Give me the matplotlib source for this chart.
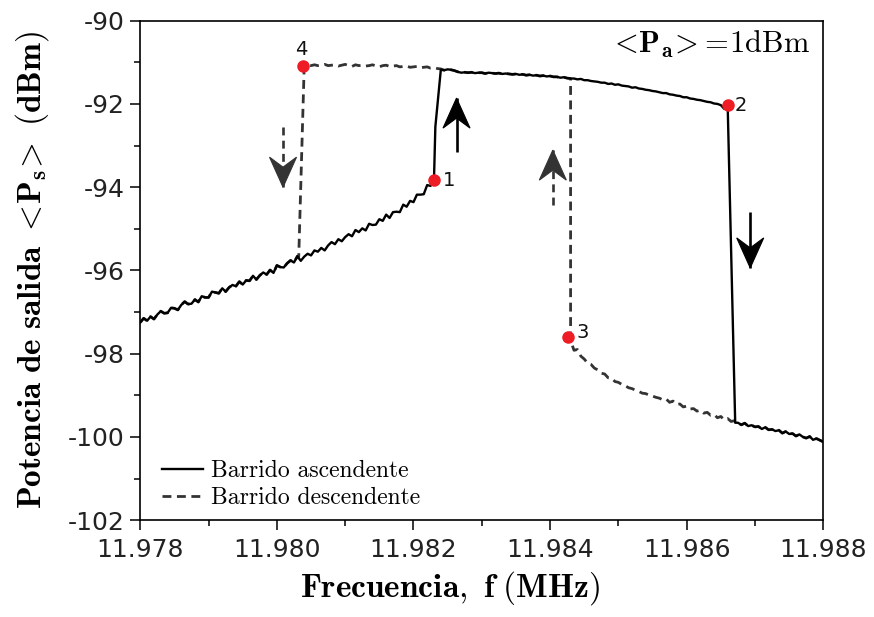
import numpy as np
import matplotlib
matplotlib.use("Agg")
import matplotlib.pyplot as plt
from matplotlib.patches import Polygon
from matplotlib.transforms import ScaledTranslation

# ---- data (MHz, dBm) ------------------------------------------------
STEP = 0.00005

# ascending sweep, low branch up to the jump at point 1
asc_low_f0 = 11.97800
asc_low_p = [
    -97.25, -97.15, -97.21, -97.11, -97.17, -97.06, -96.98, -97.03, -97.02, -96.90,
    -96.91, -96.95, -96.83, -96.75, -96.81, -96.80, -96.70, -96.76, -96.62, -96.65,
    -96.65, -96.51, -96.53, -96.55, -96.43, -96.51, -96.41, -96.35, -96.38, -96.27,
    -96.34, -96.24, -96.25, -96.13, -96.22, -96.12, -96.05, -96.10, -95.99, -96.06,
    -95.88, -95.92, -95.93, -95.83, -95.76, -95.81, -95.66, -95.77, -95.67, -95.60,
    -95.64, -95.52, -95.55, -95.46, -95.52, -95.40, -95.32, -95.37, -95.25, -95.30,
    -95.20, -95.13, -95.18, -95.03, -95.08, -94.99, -95.04, -94.88, -94.91, -94.90,
    -94.77, -94.81, -94.66, -94.74, -94.60, -94.59, -94.60, -94.42, -94.47, -94.33,
    -94.36, -94.18, -94.18, -94.17, -93.95, -93.97, -93.83,
]
# jump up at point 1
asc_jump_up_f = [11.98232, 11.98240]
asc_jump_up_p = [-92.55, -91.18]

# ascending sweep, upper branch up to point 2
asc_top_f0 = 11.98245
asc_top_p = [
    -91.19, -91.17, -91.18, -91.20, -91.23, -91.25, -91.24, -91.25, -91.24, -91.26,
    -91.25, -91.25, -91.27, -91.25, -91.26, -91.27, -91.26, -91.28, -91.27, -91.28,
    -91.29, -91.28, -91.30, -91.29, -91.31, -91.30, -91.32, -91.31, -91.33, -91.32,
    -91.34, -91.33, -91.35, -91.35, -91.37, -91.36, -91.38, -91.39, -91.39, -91.41,
    -91.40, -91.43, -91.43, -91.45, -91.46, -91.47, -91.49, -91.49, -91.52, -91.51,
    -91.54, -91.53, -91.56, -91.57, -91.58, -91.61, -91.60, -91.63, -91.64, -91.66,
    -91.67, -91.69, -91.70, -91.72, -91.74, -91.74, -91.77, -91.78, -91.80, -91.81,
    -91.84, -91.84, -91.87, -91.88, -91.90, -91.91, -91.93, -91.95, -91.96, -91.99,
    -92.00, -92.03, -92.12, -92.05,
]
# drop at point 2
asc_drop_f = [11.98671]
asc_drop_p = [-99.66]

# common tail at high frequency
tail_f0 = 11.98675
tail_p = [
    -99.66, -99.71, -99.67, -99.74, -99.72, -99.76, -99.75, -99.81, -99.77, -99.83,
    -99.82, -99.86, -99.84, -99.91, -99.87, -99.93, -99.92, -99.98, -99.94, -100.00,
    -100.03, -99.99, -100.07, -100.04, -100.08, -100.12,
]

# descending sweep, low branch from the tail down to point 3
desc_low_f0 = 11.98430
desc_low_p = [
    -97.68, -97.92, -97.90, -98.06, -98.13, -98.23, -98.26, -98.35, -98.39, -98.47,
    -98.49, -98.58, -98.59, -98.67, -98.69, -98.74, -98.77, -98.82, -98.84, -98.88,
    -98.91, -98.95, -98.96, -99.00, -99.02, -99.05, -99.07, -99.11, -99.09, -99.17,
    -99.14, -99.22, -99.21, -99.28, -99.26, -99.33, -99.32, -99.38, -99.36, -99.43,
    -99.41, -99.48, -99.46, -99.54, -99.51, -99.59, -99.56, -99.63, -99.61,
]
# jump up at point 3
desc_jump_f = [11.98430]
desc_jump_p = [-91.39]

# descending sweep, upper branch left of the ascending jump
desc_top_f0 = 11.98040
desc_top_p = [
    -91.09, -91.07, -91.08, -91.06, -91.08, -91.07, -91.05, -91.08, -91.07, -91.06,
    -91.09, -91.07, -91.05, -91.08, -91.10, -91.06, -91.08, -91.07, -91.09, -91.08,
    -91.06, -91.09, -91.11, -91.08, -91.07, -91.10, -91.09, -91.08, -91.11, -91.10,
    -91.09, -91.12, -91.11, -91.10, -91.13, -91.12, -91.11, -91.14, -91.13, -91.15,
    -91.16,
]
# drop at point 4
desc_drop_f = [11.98032]
desc_drop_p = [-95.67]

# marked bistability points
pt_f = [11.98230, 11.98660, 11.98426, 11.98038]
pt_p = [-93.83, -92.03, -97.60, -91.09]
pt_lab = ["1", "2", "3", "4"]


def sweep(f0, vals):
    return f0 + STEP * np.arange(len(vals)), np.asarray(vals)


def draw_arrow(ax, fig, x, y0, y1, color, dashed):
    """Vertical arrow from y0 to tip y1 with a slightly notched head."""
    sgn = 1 if y1 > y0 else -1
    L, W, N = 0.30, 0.135, 0.20   # head length, half width, notch (inches)
    ls = (0, (3.0, 2.0)) if dashed else "-"
    ax.plot([x, x], [y0, y1], color=color, lw=1.9, linestyle=ls,
            solid_capstyle="butt", zorder=6)
    tr = fig.dpi_scale_trans + ScaledTranslation(x, y1, ax.transData)
    head = Polygon([(0, 0), (-W, -sgn * L), (0, -sgn * N), (W, -sgn * L)],
                   closed=True, transform=tr, facecolor=color,
                   edgecolor=color, lw=0.8, zorder=7)
    ax.add_patch(head)


def main() -> None:
    plt.rcParams["mathtext.fontset"] = "cm"
    plt.rcParams["axes.unicode_minus"] = False

    fl, pl = sweep(asc_low_f0, asc_low_p)
    ft, pt = sweep(asc_top_f0, asc_top_p)
    fr, pr = sweep(tail_f0, tail_p)
    fd, pd_ = sweep(desc_low_f0, desc_low_p)
    fu, pu = sweep(desc_top_f0, desc_top_p)

    # ascending path
    asc_f = np.concatenate([fl, asc_jump_up_f, ft, asc_drop_f, fr])
    asc_p = np.concatenate([pl, asc_jump_up_p, pt, asc_drop_p, pr])

    # descending path (high -> low frequency)
    top_keep = ft <= desc_jump_f[0] + 1e-9
    low_keep = fl <= desc_drop_f[0]
    desc_f = np.concatenate([fr[::-1], fd[::-1], desc_jump_f, ft[top_keep][::-1],
                             fu[::-1], desc_drop_f, fl[low_keep][::-1]])
    desc_p = np.concatenate([pr[::-1], pd_[::-1], desc_jump_p, pt[top_keep][::-1],
                             pu[::-1], desc_drop_p, pl[low_keep][::-1]])

    fig = plt.figure(figsize=(8.74, 6.17), dpi=100)
    ax = fig.add_axes([0.1605, 0.157, 0.7815, 0.8095])

    DARK = "#333333"
    ax.plot(desc_f, desc_p, color=DARK, lw=2.0, dashes=(3.2, 2.0),
            label="Barrido descendente", zorder=2)
    ax.plot(asc_f, asc_p, color="black", lw=1.7,
            label="Barrido ascendente", zorder=3)

    ax.plot(pt_f, pt_p, "o", color="#ee1c25", ms=8, zorder=5)
    offs = [(6.5, 0), (5, 0), (6, 3), (-1.5, 12)]
    for f, p, s, (dx, dy) in zip(pt_f, pt_p, pt_lab, offs):
        ax.annotate(s, (f, p), xytext=(dx, dy), textcoords="offset points",
                    fontsize=14, color="#111111",
                    ha="center" if dy > 10 else "left", va="center")

    # sweep direction arrows
    draw_arrow(ax, fig, 11.98263, -93.16, -91.86, "black", False)
    draw_arrow(ax, fig, 11.98693, -94.59, -95.94, "black", False)
    draw_arrow(ax, fig, 11.98009, -92.55, -94.00, DARK, True)
    draw_arrow(ax, fig, 11.98404, -94.43, -93.11, DARK, True)

    ax.text(0.98, 0.985, r"$<\!\mathbf{P_a}\!>\!=\!1\mathrm{dBm}$",
            transform=ax.transAxes, fontsize=22, ha="right", va="top")

    ax.set_xlim(11.978, 11.988)
    ax.set_ylim(-102, -90)
    ax.set_xticks(np.arange(11.978, 11.9881, 0.002))
    ax.set_xticks(np.arange(11.979, 11.988, 0.002), minor=True)
    ax.set_yticks(np.arange(-102, -89, 2))
    ax.set_yticks(np.arange(-101, -90, 2), minor=True)
    ax.xaxis.set_major_formatter(matplotlib.ticker.FormatStrFormatter("%.3f"))
    ax.tick_params(which="major", length=7, width=1.1, labelsize=18,
                   labelcolor="#222222", pad=4)
    ax.tick_params(which="minor", length=4, width=1.1)
    ax.tick_params(axis="x", which="major", pad=6)
    for sp in ax.spines.values():
        sp.set_linewidth(1.2)

    ax.set_xlabel(r"$\mathbf{Frecuencia,\ f\ (MHz)}$", fontsize=24)
    ax.xaxis.set_label_coords(0.453, -0.098)
    ax.set_ylabel(r"$\mathbf{Potencia\ de\ salida\ <\!P_s\!>\ (dBm)}$",
                  fontsize=24, labelpad=12)

    h, l = ax.get_legend_handles_labels()
    ax.legend(h[::-1], l[::-1], loc="lower left", frameon=False,
              prop={"family": "cmr10", "size": 17}, handlelength=1.75,
              handletextpad=0.35, labelspacing=0.2,
              bbox_to_anchor=(0.0, -0.02))

    fig.savefig("out.png", dpi=100, facecolor="white")
    plt.close(fig)


if __name__ == "__main__":
    main()
